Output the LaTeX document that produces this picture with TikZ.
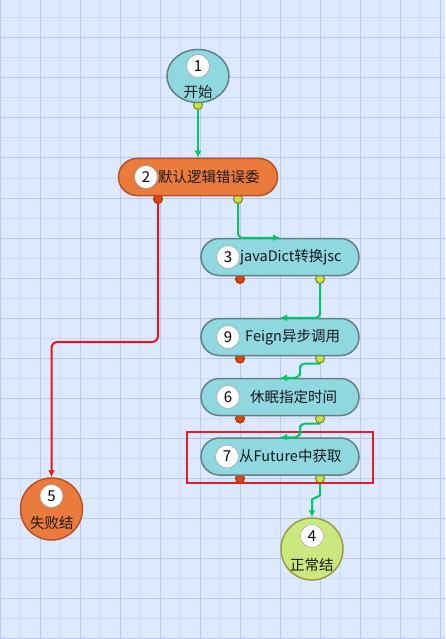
\documentclass[tikz,border=0pt]{standalone}
\usepackage{fontspec}
\setmainfont{Noto Sans CJK SC}
\usepackage{tikz}
\usetikzlibrary{shapes,arrows.meta,calc}

\definecolor{bgblue}{RGB}{221,233,254}
\definecolor{gridminor}{RGB}{205,216,252}
\definecolor{gridmajor}{RGB}{188,198,250}
\definecolor{taskfill}{RGB}{143,216,224}
\definecolor{taskline}{RGB}{100,128,130}
\definecolor{failfill}{RGB}{235,122,61}
\definecolor{failline}{RGB}{185,82,34}
\definecolor{okfill}{RGB}{202,232,125}
\definecolor{okline}{RGB}{160,155,60}
\definecolor{okflow}{RGB}{0,200,100}
\definecolor{failflow}{RGB}{238,20,20}
\definecolor{okportfill}{RGB}{200,228,60}
\definecolor{okportline}{RGB}{128,124,40}
\definecolor{failportfill}{RGB}{225,70,0}
\definecolor{failportline}{RGB}{160,50,10}
\definecolor{numline}{RGB}{150,150,150}
\definecolor{frameline}{RGB}{230,30,40}

\begin{document}
\begin{tikzpicture}[x=1pt, y=-1pt,
  task/.style={rounded rectangle, draw=taskline, line width=1.5pt, fill=taskfill, minimum width=158pt, minimum height=37pt, inner sep=0pt},
  endpoint/.style={circle, line width=1.5pt, minimum size=62pt, inner sep=0pt},
  numdot/.style={circle, draw=numline, fill=white, minimum size=23pt, inner sep=0pt, font=\fontsize{15}{15}\selectfont},
  caption/.style={inner sep=0pt, text=black!90, font=\fontsize{14.5}{16}\selectfont},
  port/.style={circle, minimum size=9pt, inner sep=0pt, line width=1pt},
  okport/.style={port, draw=okportline, fill=okportfill},
  failport/.style={port, draw=failportline, fill=failportfill},
  okarrow/.style={draw=okflow, line width=2pt, -{Latex[length=7pt,width=7pt]}},
  failarrow/.style={draw=failflow, line width=2pt, -{Latex[length=7pt,width=7pt]}}]

\useasboundingbox (0,0) rectangle (445,639);
\fill[bgblue] (0,0) rectangle (445,639);

% grid
\foreach \x in {0,20,...,440} \draw[gridminor, line width=1pt] (\x,0) -- (\x,639);
\foreach \y in {18,38,...,638} \draw[gridminor, line width=1pt] (0,\y) -- (445,\y);
\foreach \x in {0,40,...,440} \draw[gridmajor, line width=1pt] (\x,0) -- (\x,639);
\foreach \y in {38,78,...,638} \draw[gridmajor, line width=1pt] (0,\y) -- (445,\y);

% ports
\node [okport] at (198,105) (p1) {};
\node [failport] at (158,199) (p2r) {};
\node [okport] at (238,199) (p2g) {};
\node [failport] at (240,279) (p3r) {};
\node [okport] at (320,279) (p3g) {};
\node [failport] at (240,358.5) (p9r) {};
\node [okport] at (320,358.5) (p9g) {};
\node [failport] at (240,418.5) (p6r) {};
\node [okport] at (320,418.5) (p6g) {};
\node [failport] at (240,478.5) (p7r) {};
\node [okport] at (320,478.5) (p7g) {};

% start, end
\node [ellipse, draw=taskline, line width=1.5pt, fill=taskfill, minimum width=62pt, minimum height=53pt, inner sep=0pt] at (198,76) (n1) {};
\node [numdot] at (198,66) (n1num) {1};
\node [caption] at (198,92) (n1txt) {开始};

\node [endpoint, draw=failline, fill=failfill] at (51.5,509) (n5) {};
\node [numdot] at (51.5,496) (n5num) {5};
\node [caption, anchor=west] at (30,523) (n5txt) {失败结};

\node [endpoint, draw=okline, fill=okfill] at (312,549) (n4) {};
\node [numdot] at (312,536) (n4num) {4};
\node [caption, anchor=west] at (290,565) (n4txt) {正常结};

% steps
\node [task, draw=failline, fill=failfill, minimum width=159pt] at (198,177) (n2) {};
\node [numdot] at (146,177) (n2num) {2};
\node [caption, anchor=west] at (158,177) (n2txt) {默认逻辑错误委};

\node [task] at (280,257) (n3) {};
\node [numdot] at (228,257) (n3num) {3};
\node [caption, anchor=west] at (240,257) (n3txt) {javaDict转换jsc};

\node [task] at (280,337) (n9) {};
\node [numdot] at (228,337) (n9num) {9};
\node [caption, anchor=west] at (245,337) (n9txt) {Feign异步调用};

\node [task] at (280,397) (n6) {};
\node [numdot] at (228,397) (n6num) {6};
\node [caption, anchor=west] at (250,397) (n6txt) {休眠指定时间};

\node [task] at (280,456.5) (n7) {};
\node [numdot] at (227,456.5) (n7num) {7};
\node [caption, anchor=west] at (239,456.5) (n7txt) {从Future中获取};

\draw [frameline, line width=2pt] (187,432) rectangle (373,483);

% flow
\path [okarrow] (p1.south) -- (n2.north);
\path [okarrow, rounded corners=4pt] (p2g.south) |- (n3.north);
\path [okarrow, rounded corners=4pt] (p3g.south) |- (n9.north);
\path [okarrow, rounded corners=5pt] (p9g.south) -| ($(p9g.south)!0.5!(n6.north)$) |- (n6.north);
\path [okarrow, rounded corners=5pt] (p6g.south) -| ($(p6g.south)!0.5!(n7.north)$) |- (n7.north);
\path [okarrow] (p7g.south) -- ++(0,12) -- ([yshift=18pt]n4.north) -- (n4.north);

% failure
\coordinate (bend5) at (100,342);
\path [failarrow, rounded corners=6pt] (p2r.south) |- (bend5) -| (n5.north);

\end{tikzpicture}
\end{document}
